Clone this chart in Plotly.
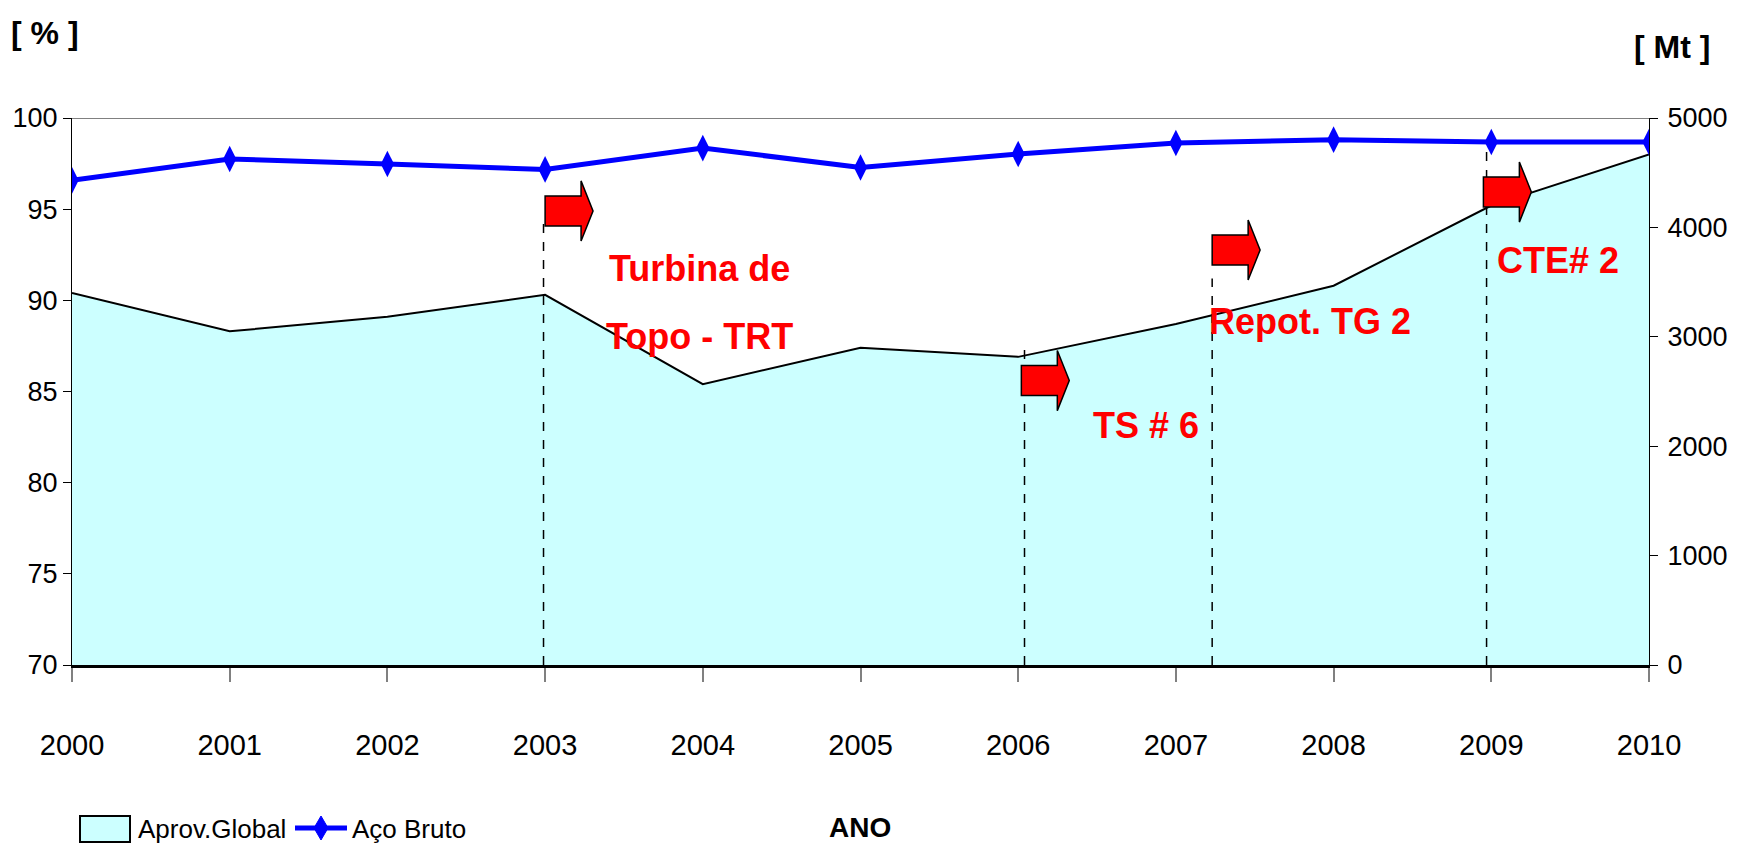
import plotly.graph_objects as go

# ---- data ----
years = list(range(2000, 2011))
aprov_global = [90.4, 88.3, 89.1, 90.3, 85.4, 87.4, 86.9, 88.7, 90.8, 95.2, 98.0]
aco_bruto = [4430, 4625, 4580, 4530, 4725, 4548, 4671, 4771, 4802, 4780, 4780]

left_ticks = [70, 75, 80, 85, 90, 95, 100]
right_ticks = [0, 1000, 2000, 3000, 4000, 5000]

# events: dashed line x, dashed line top, arrow left x, arrow centre y
event_x = [2002.99, 2006.04, 2007.23, 2008.97]
event_top = [94.5, 87.5, 91.2, 98.6]
arrow_x = [2003.0, 2006.02, 2007.23, 2008.95]
arrow_y = [94.9, 85.6, 92.76, 95.94]

labels = ["Turbina de", "Topo - TRT", "TS # 6", "Repot. TG 2", "CTE# 2"]
label_x = [2003.98, 2003.98, 2006.81, 2007.85, 2009.42]
label_y = [91.75, 88.0, 83.16, 88.86, 92.2]

series_names = ["Aprov.Global", "Aço Bruto"]

FONT = "Liberation Sans Narrow, Arial Narrow, Liberation Sans, Arial, sans-serif"
FILL = "#CCFFFF"
BLUE = "#0000FF"

# plot area in screen pixels (for converting layout positions to paper coords)
PX0, PX1, PY0, PY1 = 72, 1649, 118, 665
def px(x):
    return (x - PX0) / (PX1 - PX0)
def py(y):
    return (PY1 - y) / (PY1 - PY0)

fig = go.Figure()
fig.add_trace(go.Scatter(
    x=years, y=aprov_global, name=series_names[0], mode="lines",
    fill="tozeroy", fillcolor=FILL, line=dict(color="black", width=2),
    yaxis="y", showlegend=False))
fig.add_trace(go.Scatter(
    x=years, y=aco_bruto, name=series_names[1], mode="lines+markers",
    line=dict(color=BLUE, width=5),
    marker=dict(symbol="diamond-tall", size=19, color=BLUE),
    yaxis="y2", showlegend=False))

shapes = []
# top border line
shapes.append(dict(type="line", xref="x", yref="y", x0=2000, x1=2010, y0=100, y1=100,
                   line=dict(color="#808080", width=2), layer="above"))
for ex, et in zip(event_x, event_top):
    shapes.append(dict(type="line", xref="x", yref="y", x0=ex, x1=ex, y0=70, y1=et,
                       line=dict(color="black", width=1.5, dash="dash"), layer="above"))

body, tot, bh, hh = 0.228, 0.304, 0.82, 1.65
for ax, ay in zip(arrow_x, arrow_y):
    pts = [(ax, ay + bh), (ax + body, ay + bh), (ax + body, ay + hh), (ax + tot, ay),
           (ax + body, ay - hh), (ax + body, ay - bh), (ax, ay - bh)]
    path = "M " + " L ".join(f"{a},{b}" for a, b in pts) + " Z"
    shapes.append(dict(type="path", xref="x", yref="y", path=path,
                       fillcolor="#FF0000", line=dict(color="black", width=1.5), layer="above"))

# ---- legend (drawn manually to get the box symbol) ----
shapes.append(dict(type="rect", xref="paper", yref="paper",
                   x0=px(80), x1=px(130), y0=py(842), y1=py(816),
                   fillcolor=FILL, line=dict(color="black", width=2)))
shapes.append(dict(type="line", xref="paper", yref="paper",
                   x0=px(295), x1=px(347), y0=py(828), y1=py(828),
                   line=dict(color=BLUE, width=5)))
dpts = [(321, 816), (328, 828), (321, 840), (314, 828)]
shapes.append(dict(type="path", xref="paper", yref="paper",
                   path="M " + " L ".join(f"{px(a)},{py(b)}" for a, b in dpts) + " Z",
                   fillcolor=BLUE, line=dict(color=BLUE, width=1)))

annotations = []
for t, lx, ly in zip(labels, label_x, label_y):
    annotations.append(dict(text=f"<b>{t}</b>", x=lx, y=ly, xref="x", yref="y",
                            xanchor="center", yanchor="middle", showarrow=False,
                            font=dict(family=FONT, size=36, color="#FF0000")))

annotations += [
    dict(text="<b>[ % ]</b>", x=px(45), y=py(33), xref="paper", yref="paper",
         xanchor="center", yanchor="middle", showarrow=False,
         font=dict(family=FONT, size=32, color="black")),
    dict(text="<b>[ Mt ]</b>", x=px(1672), y=py(47), xref="paper", yref="paper",
         xanchor="center", yanchor="middle", showarrow=False,
         font=dict(family=FONT, size=32, color="black")),
    dict(text="<b>ANO</b>", x=px(860), y=py(827), xref="paper", yref="paper",
         xanchor="center", yanchor="middle", showarrow=False,
         font=dict(family=FONT, size=28, color="black")),
    dict(text=series_names[0], x=px(136), y=py(829), xref="paper", yref="paper",
         xanchor="left", yanchor="middle", showarrow=False,
         font=dict(family=FONT, size=26, color="black")),
    dict(text=series_names[1], x=px(350), y=py(829), xref="paper", yref="paper",
         xanchor="left", yanchor="middle", showarrow=False,
         font=dict(family=FONT, size=26, color="black")),
]

# page body has an 8px margin: size the figure so it fits the window without scrollbars
fig.update_layout(
    width=1722, height=837,
    margin=dict(l=64, r=81, t=110, b=180, autoexpand=False),
    paper_bgcolor="white", plot_bgcolor="white",
    font=dict(family=FONT, size=27, color="black"),
    showlegend=False,
    xaxis=dict(range=[2000, 2010], tickmode="array", tickvals=years,
               ticktext=[str(y) for y in years], ticks="outside", ticklen=14,
               tickcolor="#808080", tickwidth=2, showgrid=False, zeroline=False,
               showline=True, linecolor="black", linewidth=3, automargin=False,
               ticklabelstandoff=38, tickfont=dict(size=29)),
    yaxis=dict(range=[70, 100], tickmode="array", tickvals=left_ticks,
               ticks="outside", ticklen=8, tickcolor="black", showgrid=False,
               zeroline=False, showline=True, linecolor="black", linewidth=1,
               automargin=False, ticklabelstandoff=0, tickfont=dict(size=27)),
    yaxis2=dict(range=[0, 5000], tickmode="array", tickvals=right_ticks,
                overlaying="y", side="right", ticks="outside", ticklen=8,
                tickcolor="black", showgrid=False, zeroline=False, showline=True,
                linecolor="black", linewidth=1, automargin=False,
                ticklabelstandoff=4, tickfont=dict(size=27)),
    shapes=shapes, annotations=annotations,
)

fig.write_html("out.html")
